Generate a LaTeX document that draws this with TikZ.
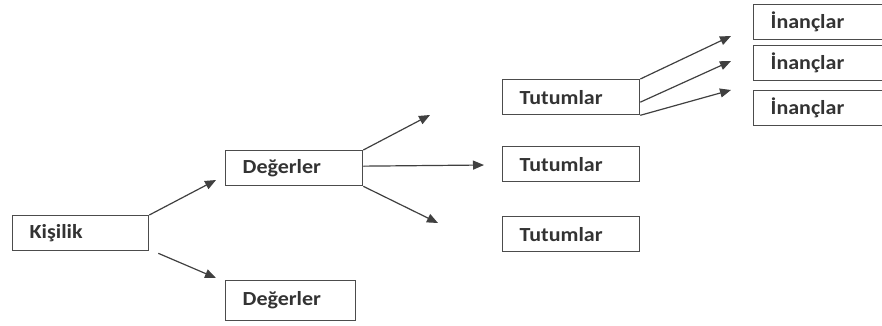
\documentclass[tikz,border=0pt]{standalone}
\usepackage{fontspec}
\setmainfont[FakeStretch=1.1]{Carlito}
\usetikzlibrary{arrows.meta}

\begin{document}
\begin{tikzpicture}[x=1pt, y=-1pt,
        box/.style={
                draw=black!70,
                line width=1.3pt,
                anchor=north west,
                inner xsep=17pt,
                inner ysep=0pt,
                text width=#1,
                align=left,
                minimum height=35pt,
                text=black!80,
                font=\fontsize{20}{24}\selectfont\bfseries,
        },
        box/.default=103pt,
        conn/.style={
                draw=black!75,
                line width=1.2pt,
                -{Triangle[length=11pt,width=9pt]},
        }]
            \useasboundingbox (0,0) rectangle (882,325);
            % boxes
            \node[box=102pt] (kisilik) at (12,215) {Kişilik};
            \node[box] (deger1) at (225,150) {Değerler};
            \node[box=96pt, minimum height=40pt] (deger2) at (225,280) {Değerler};
            \node[box] (tutum1) at (502,79) {Tutumlar};
            \node[box] (tutum2) at (502,146) {Tutumlar};
            \node[box] (tutum3) at (502,216) {Tutumlar};
            \node[box] (inanc1) at (753,4) {İnançlar};
            \node[box] (inanc2) at (753,45) {İnançlar};
            \node[box] (inanc3) at (753,90) {İnançlar};
            % free ends of the arrows
            \coordinate (k1) at (216,180);
            \coordinate (k2) at (216,278);
            \coordinate (d1) at (430,115);
            \coordinate (d2) at (484,165);
            \coordinate (d3) at (438,223);
            \coordinate (t1) at (731,36);
            \coordinate (t2) at (731,61);
            \coordinate (t3) at (731,90);
            % arrows
            \draw[conn] (kisilik.north east) -- (k1);
            \draw[conn] ([shift={(9,2)}]kisilik.south east) -- (k2);
            \draw[conn] (deger1.north east) -- (d1);
            \draw[conn] ([yshift=2]deger1.east) -- (d2);
            \draw[conn] (deger1.south east) -- (d3);
            \draw[conn] (tutum1.north east) -- (t1);
            \draw[conn] ([yshift=-5]tutum1.east) -- (t2);
            \draw[conn] (tutum1.south east) -- (t3);
        \end{tikzpicture}
\end{document}
